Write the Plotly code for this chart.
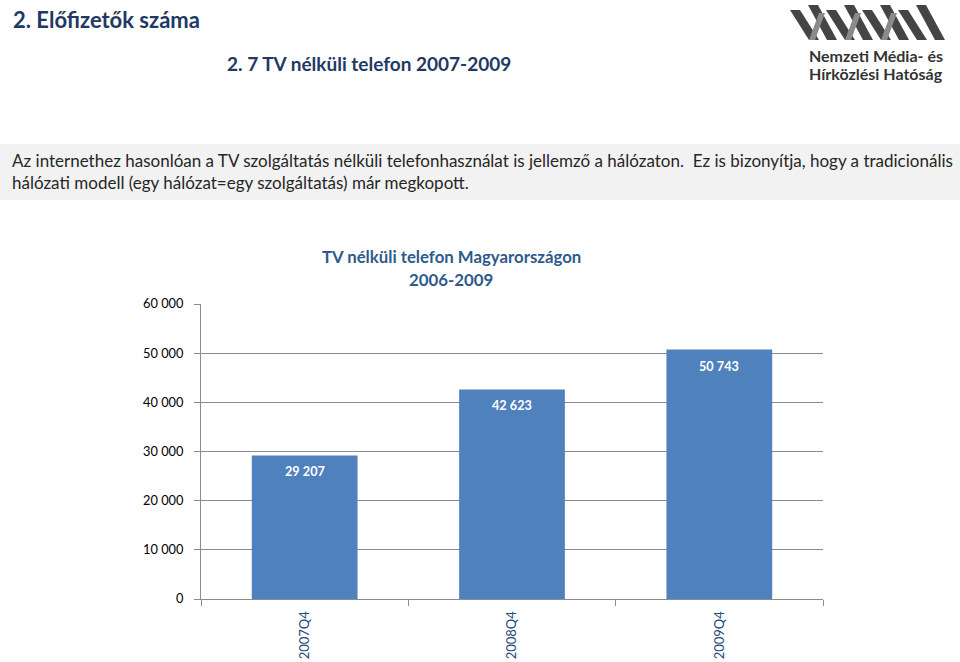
import plotly.graph_objects as go

categories = ["2007Q4", "2008Q4", "2009Q4"]
subscribers = [29207, 42623, 50743]
value_labels = ["29 207", "42 623", "50 743"]
y_tick_values = [0, 10000, 20000, 30000, 40000, 50000, 60000]
y_tick_labels = ["0", "10 000", "20 000", "30 000", "40 000", "50 000", "60 000"]

W, H = 960, 662
FONT = "Lato, Carlito, Calibri, sans-serif"
NAVY = "#1F3864"
BAR = "#4F81BD"
GRID = "#8C8C8C"

def px(x):
    return x / W

def py(y):
    return 1 - y / H

fig = go.Figure()
fig.add_trace(go.Bar(
    x=categories, y=subscribers, marker=dict(color=BAR, line=dict(width=0)),
    hoverinfo="x+y", showlegend=False,
))

# value labels inside bars near the top
for c, v, t in zip(categories, subscribers, value_labels):
    fig.add_annotation(x=c, y=v, xref="x", yref="y", text="<b>" + t + "</b>",
                       showarrow=False, yshift=-16,
                       font=dict(family=FONT, size=12.7, color="white"))

shapes = []
# grey text box background
shapes.append(dict(type="rect", xref="paper", yref="paper",
                   x0=0, x1=1, y0=py(200), y1=py(144),
                   fillcolor="#F2F2F2", line=dict(width=0), layer="below"))

# logo stripes (approximation)
stripe_x = [790, 808, 826, 844, 862, 880, 898, 916]
for i, sx in enumerate(stripe_x):
    top = 10 if i % 2 == 0 else 5
    path = (f"M {px(sx)} {py(top)} L {px(sx + 10)} {py(top)} "
            f"L {px(sx + 29)} {py(40)} L {px(sx + 19)} {py(40)} Z")
    shapes.append(dict(type="path", xref="paper", yref="paper", path=path,
                       fillcolor="#454545", line=dict(width=0)))
for sx in [809, 845, 881]:
    path = (f"M {px(sx)} {py(40)} L {px(sx + 6)} {py(40)} "
            f"L {px(sx + 16)} {py(13)} L {px(sx + 10)} {py(13)} Z")
    shapes.append(dict(type="path", xref="paper", yref="paper", path=path,
                       fillcolor="#8A8A8A", line=dict(width=0)))

annotations = [
    dict(text="<b>2. Előfizetők száma</b>", x=px(11), y=py(19), xanchor="left",
         yanchor="middle", font=dict(family=FONT, size=22, color=NAVY)),
    dict(text="<b>2. 7 TV nélküli telefon 2007-2009</b>", x=px(369), y=py(63),
         xanchor="center", yanchor="middle", font=dict(family=FONT, size=19, color=NAVY)),
    dict(text="<b>Nemzeti Média- és</b>", x=px(807), y=py(56), xanchor="left",
         yanchor="middle", font=dict(family=FONT, size=16, color="#333333")),
    dict(text="<b>Hírközlési Hatóság</b>", x=px(807), y=py(74), xanchor="left",
         yanchor="middle", font=dict(family=FONT, size=16, color="#333333")),
    dict(text="Az internethez hasonlóan a TV szolgáltatás nélküli telefonhasználat is jellemző a hálózaton.  Ez is bizonyítja, hogy a tradicionális",
         x=px(10), y=py(160), xanchor="left", yanchor="middle",
         font=dict(family=FONT, size=17, color="#262626")),
    dict(text="hálózati modell (egy hálózat=egy szolgáltatás) már megkopott.",
         x=px(10), y=py(182), xanchor="left", yanchor="middle",
         font=dict(family=FONT, size=17, color="#262626")),
    dict(text="<b>TV nélküli telefon Magyarországon</b>", x=px(451), y=py(257),
         xanchor="center", yanchor="middle", font=dict(family=FONT, size=16.8, color="#2F5A8C")),
    dict(text="<b>2006-2009</b>", x=px(451), y=py(279),
         xanchor="center", yanchor="middle", font=dict(family=FONT, size=16.8, color="#2F5A8C")),
]
for a in annotations:
    a.update(xref="paper", yref="paper", showarrow=False)
    fig.add_annotation(**a)

fig.update_layout(
    width=W, height=H, autosize=False,
    margin=dict(l=0, r=0, t=0, b=0, pad=0),
    paper_bgcolor="white", plot_bgcolor="white",
    bargap=0.49,
    shapes=shapes,
    xaxis=dict(domain=[px(201), px(823)], showgrid=False, automargin=False,
               showline=True, linecolor=GRID, linewidth=1,
               ticks="outside", tickson="boundaries", ticklen=6, tickcolor=GRID,
               tickangle=-90, ticklabelstandoff=6,
               tickfont=dict(family=FONT, size=13, color="#1F497D"),
               fixedrange=True),
    yaxis=dict(domain=[py(599), py(304)], range=[0, 60000], automargin=False,
               tickvals=y_tick_values, ticktext=y_tick_labels,
               showgrid=True, gridcolor=GRID, gridwidth=1,
               showline=True, linecolor=GRID, linewidth=1,
               ticks="outside", ticklen=6, tickcolor=GRID,
               ticklabelstandoff=8,
               tickfont=dict(family=FONT, size=12.8, color="#000000"),
               zeroline=False, fixedrange=True),
)

fig.write_html("out.html", config={"displayModeBar": False},
               post_script="document.body.style.margin='0px';")
